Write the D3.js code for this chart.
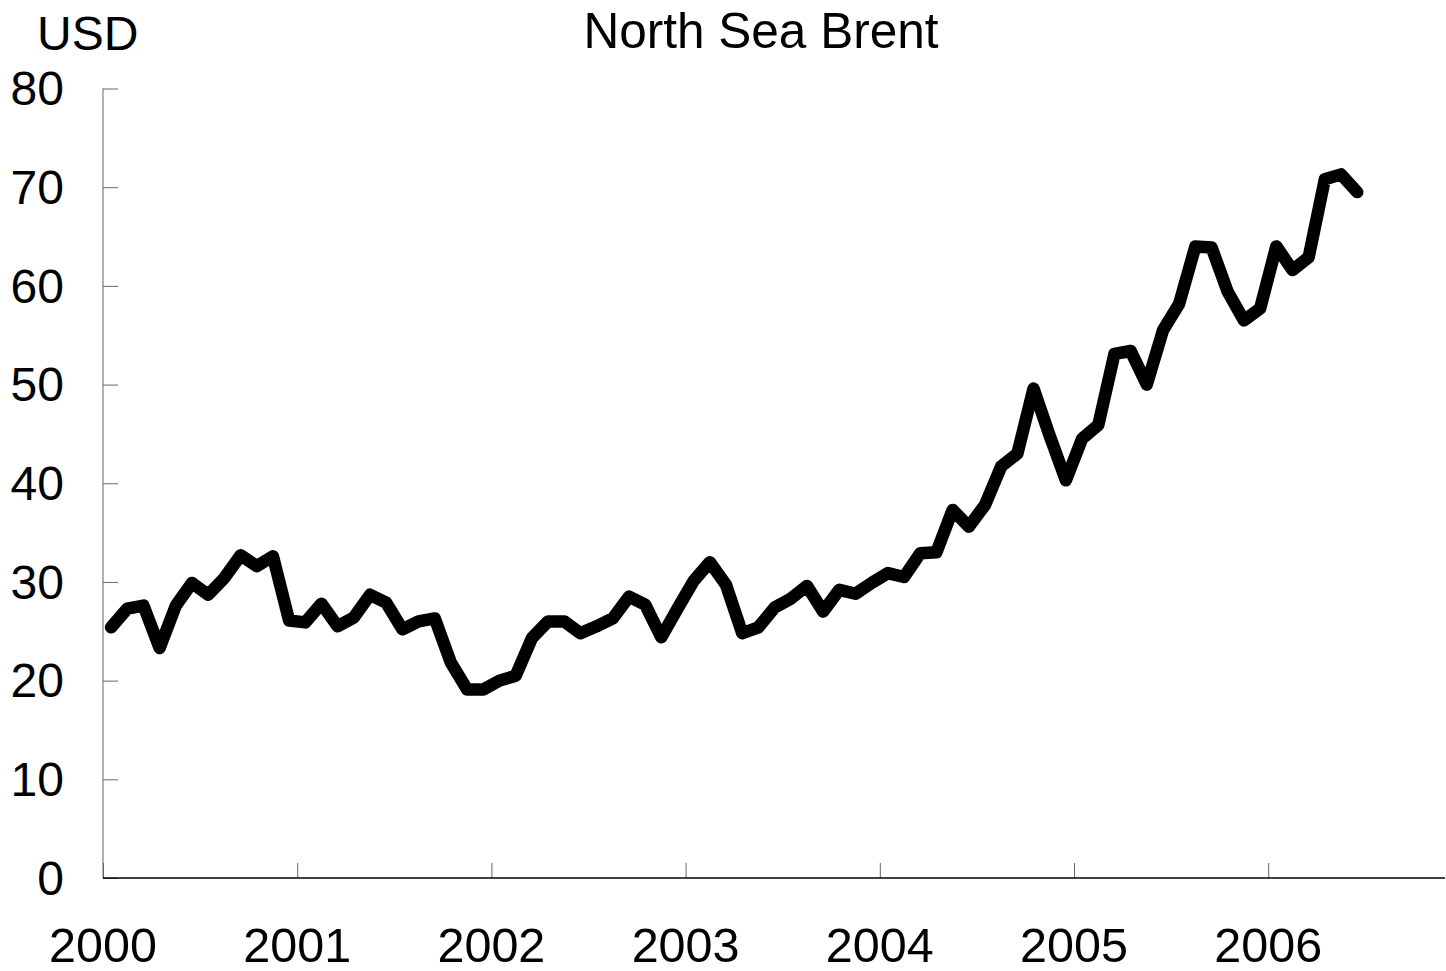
<!DOCTYPE html>
<html>
<head>
<meta charset="utf-8">
<script src="https://cdn.jsdelivr.net/npm/d3@7"></script>
<style>
  html, body { margin: 0; padding: 0; background: #fff; }
  svg { display: block; font-family: "Liberation Sans", Arial, sans-serif; }
</style>
</head>
<body>
<svg id="chart" width="1446" height="971"></svg>
<script>
const title = "North Sea Brent";
const unitLabel = "USD";
const yearLabels = ["2000", "2001", "2002", "2003", "2004", "2005", "2006"];
const yTicks = [0, 10, 20, 30, 40, 50, 60, 70, 80];
const months = [
  "2000-01","2000-02","2000-03","2000-04","2000-05","2000-06","2000-07","2000-08","2000-09","2000-10","2000-11","2000-12",
  "2001-01","2001-02","2001-03","2001-04","2001-05","2001-06","2001-07","2001-08","2001-09","2001-10","2001-11","2001-12",
  "2002-01","2002-02","2002-03","2002-04","2002-05","2002-06","2002-07","2002-08","2002-09","2002-10","2002-11","2002-12",
  "2003-01","2003-02","2003-03","2003-04","2003-05","2003-06","2003-07","2003-08","2003-09","2003-10","2003-11","2003-12",
  "2004-01","2004-02","2004-03","2004-04","2004-05","2004-06","2004-07","2004-08","2004-09","2004-10","2004-11","2004-12",
  "2005-01","2005-02","2005-03","2005-04","2005-05","2005-06","2005-07","2005-08","2005-09","2005-10","2005-11","2005-12",
  "2006-01","2006-02","2006-03","2006-04","2006-05","2006-06"
];
const brent = [
  25.4, 27.3, 27.6, 23.3, 27.6, 29.9, 28.7, 30.4, 32.7, 31.6, 32.6, 26.1,
  25.9, 27.8, 25.5, 26.4, 28.7, 27.9, 25.2, 26.0, 26.3, 21.8, 19.1, 19.1,
  20.0, 20.5, 24.3, 26.0, 26.0, 24.8, 25.5, 26.3, 28.5, 27.7, 24.4, 27.3,
  30.1, 32.0, 29.7, 24.8, 25.4, 27.4, 28.3, 29.6, 27.0, 29.2, 28.8, 29.9,
  30.9, 30.5, 32.9, 33.0, 37.3, 35.6, 37.8, 41.7, 43.0, 49.6, 44.8, 40.3,
  44.5, 45.9, 53.1, 53.4, 50.0, 55.5, 58.2, 64.0, 63.9, 59.4, 56.5, 57.7,
  64.0, 61.6, 62.9, 70.8, 71.3, 69.5
];

const svg = d3.select("#chart");
const plotLeft = 103, plotBottom = 878, plotTop = 88.5;
const yearWidth = 194.2;

const x = d3.scaleLinear().domain([2000, 2007]).range([plotLeft, plotLeft + 7 * yearWidth]);
const y = d3.scaleLinear().domain([0, 80]).range([plotBottom, plotTop]);

const data = months.map((m, i) => {
  const [yy, mm] = m.split("-").map(Number);
  return { t: yy + (mm - 0.5) / 12, v: brent[i] };
});

// Y axis
const yAxis = d3.axisRight(y).tickValues(yTicks).tickSize(15).tickFormat("");
const gy = svg.append("g").attr("transform", `translate(${plotLeft},0)`).call(yAxis);
gy.select(".domain").remove();
gy.selectAll(".tick line").attr("stroke", "#666").attr("stroke-width", 1);
svg.append("line")
  .attr("x1", plotLeft).attr("x2", plotLeft)
  .attr("y1", y(80)).attr("y2", plotBottom)
  .attr("stroke", "#666").attr("stroke-width", 1);

svg.append("g").selectAll("text").data(yTicks).join("text")
  .attr("x", 64).attr("y", d => y(d)).attr("dy", "0.35em")
  .attr("text-anchor", "end")
  .attr("font-size", 48).attr("fill", "#000")
  .text(d => d);

// X axis
const xTickVals = yearLabels.map(Number);
const xAxis = d3.axisTop(x).tickValues(xTickVals).tickSize(15).tickFormat("");
const gx = svg.append("g").attr("transform", `translate(0,${plotBottom})`).call(xAxis);
gx.select(".domain").remove();
gx.selectAll(".tick line").attr("stroke", "#666").attr("stroke-width", 1);
svg.append("line")
  .attr("x1", plotLeft).attr("x2", 1445)
  .attr("y1", plotBottom).attr("y2", plotBottom)
  .attr("stroke", "#000").attr("stroke-width", 1.5);

svg.append("g").selectAll("text").data(yearLabels).join("text")
  .attr("x", d => x(+d)).attr("y", 962)
  .attr("text-anchor", "middle")
  .attr("font-size", 48.5).attr("fill", "#000")
  .text(d => d);

// Titles
svg.append("text").attr("x", 37).attr("y", 50)
  .attr("font-size", 48).attr("fill", "#000").text(unitLabel);
svg.append("text").attr("x", 761).attr("y", 48)
  .attr("text-anchor", "middle")
  .attr("font-size", 49.5).attr("fill", "#000").text(title);

// Line
const line = d3.line().x(d => x(d.t)).y(d => y(d.v));
svg.append("path").datum(data)
  .attr("d", line)
  .attr("fill", "none")
  .attr("stroke", "#000")
  .attr("stroke-width", 12.5)
  .attr("stroke-linejoin", "round")
  .attr("stroke-linecap", "round");
</script>
</body>
</html>
